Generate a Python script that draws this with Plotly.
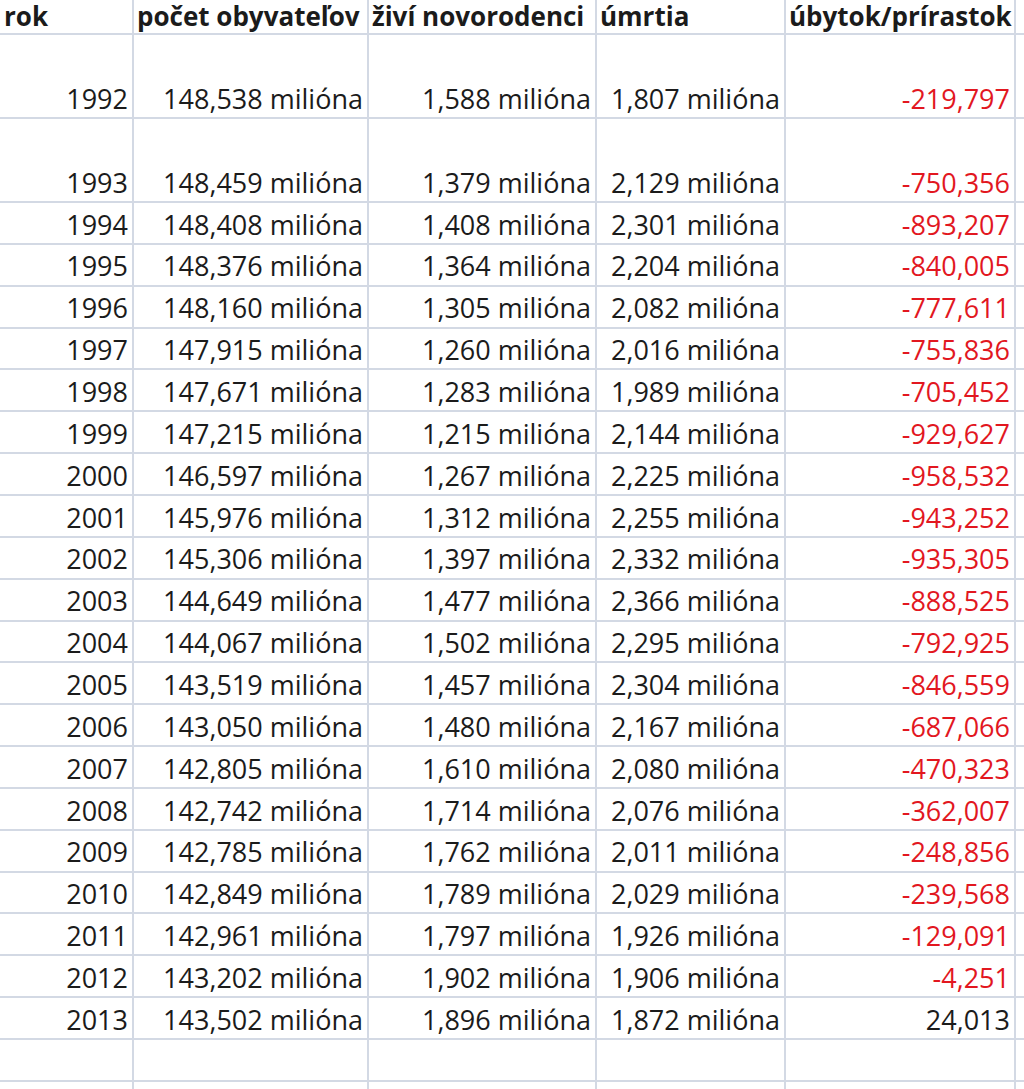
import plotly.graph_objects as go

years = list(range(1992, 2014))
population_mil = [148.538, 148.459, 148.408, 148.376, 148.160, 147.915, 147.671, 147.215,
                  146.597, 145.976, 145.306, 144.649, 144.067, 143.519, 143.050, 142.805,
                  142.742, 142.785, 142.849, 142.961, 143.202, 143.502]
births_mil = [1.588, 1.379, 1.408, 1.364, 1.305, 1.260, 1.283, 1.215, 1.267, 1.312, 1.397,
              1.477, 1.502, 1.457, 1.480, 1.610, 1.714, 1.762, 1.789, 1.797, 1.902, 1.896]
deaths_mil = [1.807, 2.129, 2.301, 2.204, 2.082, 2.016, 1.989, 2.144, 2.225, 2.255, 2.332,
              2.366, 2.295, 2.304, 2.167, 2.080, 2.076, 2.011, 2.029, 1.926, 1.906, 1.872]
change = [-219797, -750356, -893207, -840005, -777611, -755836, -705452, -929627, -958532,
          -943252, -935305, -888525, -792925, -846559, -687066, -470323, -362007, -248856,
          -239568, -129091, -4251, 24013]
headers = ["rok", "počet obyvateľov", "živí novorodenci", "úmrtia", "úbytok/prírastok"]

# sheet geometry (pixels)
W, H = 1024, 1089
col_edges = [0, 133, 368, 596, 785, 1015]
row_edges = [0, 34, 118, 202]
step = (1039 - 202) / 20
for i in range(1, 21):
    row_edges.append(202 + step * i)
row_edges.append(1081)
data_bottoms = row_edges[2:2 + len(years)]

FONT = "Open Sans"
SIZE = 27
DARK = "#1b1b1b"
RED = "#e2171f"
GRID = "#d3d9e4"


def mil(v):
    return f"{v:.3f}".replace(".", ",") + " milióna"


columns = [
    [str(y) for y in years],
    [mil(v) for v in population_mil],
    [mil(v) for v in births_mil],
    [mil(v) for v in deaths_mil],
    [f"{v:,}" for v in change],
]

fig = go.Figure()

for c, texts in enumerate(columns):
    colors = DARK
    if c == 4:
        colors = [RED if v < 0 else DARK for v in change]
    fig.add_trace(go.Scatter(
        x=[col_edges[c + 1] - 5] * len(texts),
        y=[b - 16 for b in data_bottoms],
        mode="text",
        text=texts,
        textposition="middle left",
        textfont=dict(family=FONT, size=SIZE, color=colors),
        cliponaxis=False,
        hoverinfo="skip",
        showlegend=False,
    ))

fig.add_trace(go.Scatter(
    x=[e + 4 for e in col_edges[:5]],
    y=[19] * 5,
    mode="text",
    text=[f"<b>{h}</b>" for h in headers],
    textposition="middle right",
    textfont=dict(family=FONT, size=26, color=DARK),
    cliponaxis=False,
    hoverinfo="skip",
    showlegend=False,
))

fig.update_layout(
    width=W,
    height=H,
    margin=dict(l=0, r=0, t=0, b=0),
    paper_bgcolor="white",
    plot_bgcolor="white",
    xaxis=dict(range=[0, W], tickvals=col_edges[1:], showgrid=True, gridcolor=GRID,
               gridwidth=2, showticklabels=False, zeroline=False, fixedrange=True),
    yaxis=dict(range=[H, 0], tickvals=row_edges[1:], showgrid=True, gridcolor=GRID,
               gridwidth=2, showticklabels=False, zeroline=False, fixedrange=True),
)

fig.write_html("out.html", config={"displayModeBar": False},
               post_script="document.body.style.margin='0px';")
